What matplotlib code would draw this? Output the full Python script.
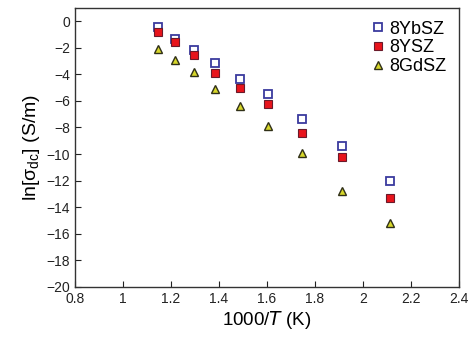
import numpy as np
import matplotlib
matplotlib.use("Agg")
import matplotlib.pyplot as plt

inv_T = [1.145, 1.215, 1.294, 1.383, 1.486, 1.605, 1.745, 1.912, 2.114]
ybsz = [-0.43, -1.38, -2.19, -3.12, -4.33, -5.46, -7.34, -9.43, -12.0]
ysz = [-0.85, -1.56, -2.57, -3.87, -5.03, -6.24, -8.40, -10.24, -13.3]
gdsz = [-2.11, -2.89, -3.85, -5.08, -6.37, -7.92, -9.91, -12.8, -15.2]

x_ticks = [0.8, 1, 1.2, 1.4, 1.6, 1.8, 2, 2.2, 2.4]
x_tick_labels = ["0.8", "1", "1.2", "1.4", "1.6", "1.8", "2", "2.2", "2.4"]
y_ticks = list(range(-20, 1, 2))

plt.rcParams["font.family"] = ["Liberation Sans", "DejaVu Sans"]

fig = plt.figure(figsize=(4.73, 3.42), dpi=100)
ax = fig.add_axes([0.159, 0.161, 0.811, 0.816])

ax.plot(inv_T, ybsz, "s", ms=5.5, mfc="white", mec="#3a3a9e", mew=1.3, label="8YbSZ")
ax.plot(inv_T, ysz, "s", ms=5.5, mfc="#e8141c", mec="#6a1a2a", mew=0.8, label="8YSZ")
ax.plot(inv_T, gdsz, "^", ms=6, mfc="#d6d62a", mec="#303018", mew=1.0, label="8GdSZ")

ax.set_xlim(0.8, 2.4)
ax.set_ylim(-20, 1)
ax.set_xticks(x_ticks)
ax.set_xticklabels(x_tick_labels)
ax.set_yticks(y_ticks)
ax.tick_params(direction="in", length=4, labelsize=10, top=False, right=False,
               width=0.8, colors="#222222")
for s in ax.spines.values():
    s.set_linewidth(1.0)
    s.set_color("#333333")

ax.set_xlabel("1000/$T$ (K)", fontsize=13.5, labelpad=2)
ax.set_ylabel(r"ln[σ$_{\mathregular{dc}}$] (S/m)", fontsize=14, labelpad=3)

ax.legend(loc="upper right", frameon=False, fontsize=13, handletextpad=0.1,
          labelspacing=0.1, handlelength=1.0, borderaxespad=0.3)

fig.savefig("out.png", dpi=100)
